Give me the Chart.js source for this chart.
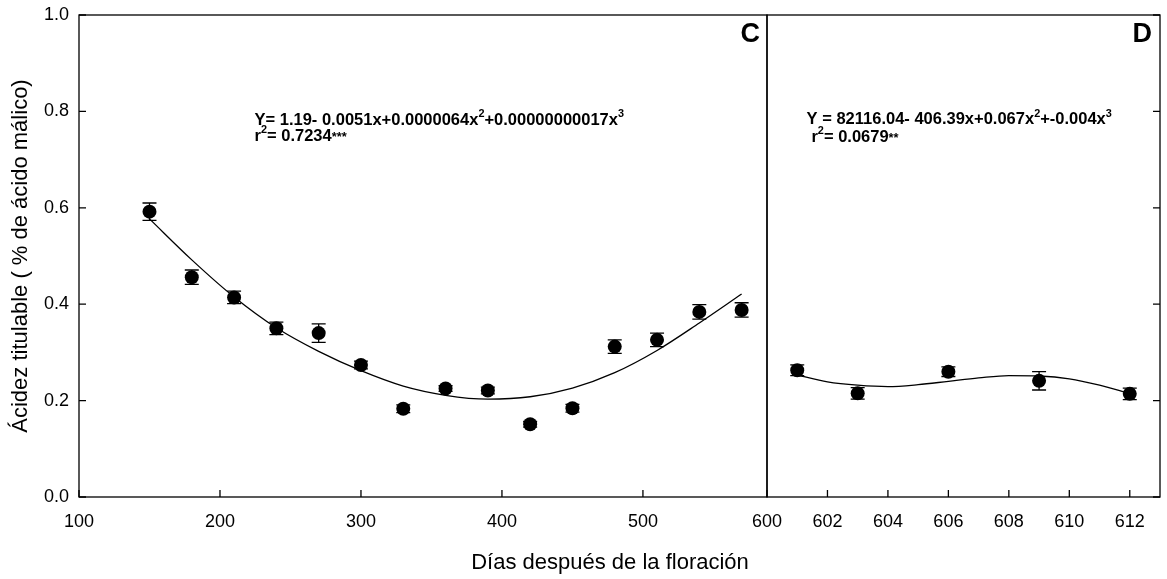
<!DOCTYPE html>
<html>
<head>
<meta charset="utf-8">
<script src="https://cdn.jsdelivr.net/npm/chart.js@4/dist/chart.umd.min.js"></script>
<style>
  body { margin: 0; background: #fff; width: 1167px; height: 579px; position: relative; overflow: hidden; }
  canvas { position: absolute; top: 0; }
  #chartC { left: 0; }
  #chartD { left: 737px; }
  #xTitle {
    position: absolute; left: 0; width: 1220px; top: 551px;
    text-align: center; font: 22px "Liberation Sans", Arial, sans-serif; line-height: 22px; color: #000;
  }
</style>
</head>
<body>
<canvas id="chartC" width="790" height="579"></canvas>
<canvas id="chartD" width="430" height="579"></canvas>
<div id="xTitle">Días después de la floración</div>
<script>
// panel C: days 150-570
let dayC = [150, 180, 210, 240, 270, 300, 330, 360, 390, 420, 450, 480, 510, 540, 570];
let acidC = [0.592, 0.456, 0.414, 0.350, 0.340, 0.274, 0.183, 0.225, 0.221, 0.151, 0.184, 0.312, 0.326, 0.384, 0.388];
let errC = [0.018, 0.015, 0.013, 0.013, 0.019, 0.008, 0.008, 0.006, 0.007, 0.006, 0.008, 0.014, 0.014, 0.015, 0.015];
// fitted cubic
let fitDayC = [150, 180, 210, 240, 270, 300, 330, 360, 390, 420, 450, 480, 510, 540, 570];
let fitC = [0.577, 0.492, 0.415, 0.351, 0.302, 0.262, 0.230, 0.211, 0.203, 0.208, 0.226, 0.258, 0.304, 0.361, 0.421];

// panel D: days 601-612
let dayD = [601, 603, 606, 609, 612];
let acidD = [0.263, 0.215, 0.260, 0.241, 0.214];
let errD = [0.011, 0.012, 0.010, 0.019, 0.012];
let fitDayD = [601, 602, 603, 604, 605, 606, 607, 608, 609, 610, 611, 612];
let fitD = [0.253, 0.239, 0.232, 0.229, 0.233, 0.240, 0.247, 0.252, 0.251, 0.245, 0.232, 0.215];

let xTicksC = [100, 200, 300, 400, 500];
let xTicksD = [600, 602, 604, 606, 608, 610, 612];
let yTicks = [0, 0.2, 0.4, 0.6, 0.8, 1.0];

Chart.defaults.font.family = '"Liberation Sans", Arial, sans-serif';
Chart.defaults.color = '#000';

const FONT = '"Liberation Sans", Arial, sans-serif';

function drawParts(ctx, parts, x, y, size) {
  parts.forEach(p => {
    let s = size;
    let yy = y;
    if (p.sup) { s = size * 0.66; yy = y - size * 0.45; }
    if (p.star) { s = size * 0.78; }
    ctx.font = 'bold ' + s + 'px ' + FONT;
    ctx.fillText(p.t, x, yy);
    x += ctx.measureText(p.t).width;
  });
}

// frame, inward ticks, error bars and equations
const panelPlugin = {
  id: 'panel',
  afterDatasetsDraw(chart, args, opts) {
    const {ctx, scales} = chart;
    ctx.save();
    ctx.strokeStyle = '#000';
    ctx.lineWidth = 1.3;
    chart.data.datasets.forEach((ds, i) => {
      if (!ds.errors) return;
      chart.getDatasetMeta(i).data.forEach((pt, j) => {
        const v = ds.data[j].y, e = ds.errors[j];
        const y0 = scales.y.getPixelForValue(v - e);
        const y1 = scales.y.getPixelForValue(v + e);
        ctx.beginPath();
        ctx.moveTo(pt.x, y0); ctx.lineTo(pt.x, y1);
        ctx.moveTo(pt.x - 7, y0); ctx.lineTo(pt.x + 7, y0);
        ctx.moveTo(pt.x - 7, y1); ctx.lineTo(pt.x + 7, y1);
        ctx.stroke();
      });
    });
    ctx.restore();
  },
  afterDraw(chart, args, opts) {
    const {ctx, chartArea: a, scales} = chart;
    ctx.save();
    ctx.strokeStyle = '#000';
    ctx.lineWidth = 1.3;
    ctx.strokeRect(a.left, a.top, a.right - a.left, a.bottom - a.top);
    ctx.beginPath();
    scales.x.ticks.forEach(t => {
      const px = scales.x.getPixelForValue(t.value);
      ctx.moveTo(px, a.bottom); ctx.lineTo(px, a.bottom - 7);
    });
    scales.y.ticks.forEach(t => {
      const py = scales.y.getPixelForValue(t.value);
      if (opts.side === 'left') { ctx.moveTo(a.left, py); ctx.lineTo(a.left + 7, py); }
      else { ctx.moveTo(a.right, py); ctx.lineTo(a.right - 7, py); }
    });
    ctx.stroke();

    ctx.fillStyle = '#000';
    ctx.textBaseline = 'alphabetic';
    ctx.textAlign = 'left';
    opts.notes.forEach(n => {
      drawParts(ctx, n.parts, scales.x.getPixelForValue(n.x), scales.y.getPixelForValue(n.y), 16.5);
    });
    ctx.textAlign = 'right';
    ctx.font = 'bold 27px ' + FONT;
    ctx.fillText(opts.label, a.right - opts.labelInset, a.top + 27);
    ctx.restore();
  }
};

function pts(xs, ys) {
  return xs.map((x, i) => ({x: x, y: ys[i]}));
}

function baseOptions(xMin, xMax, xTicks, pad, side, yExtra) {
  return {
    responsive: false,
    animation: false,
    layout: {padding: pad},
    plugins: {legend: {display: false}, tooltip: {enabled: false}},
    scales: {
      x: {
        type: 'linear', min: xMin, max: xMax,
        grid: {display: false, drawTicks: false},
        border: {display: false},
        ticks: {autoSkip: false, maxRotation: 0, font: {size: 18}, padding: 14},
        afterBuildTicks(s) { s.ticks = xTicks.map(v => ({value: v})); },
        afterFit(s) { s.height = 82; s.paddingLeft = 0; s.paddingRight = 0; }
      },
      y: Object.assign({
        min: 0, max: 1, position: side,
        grid: {display: false, drawTicks: false},
        border: {display: false},
        afterBuildTicks(s) { s.ticks = yTicks.map(v => ({value: v})); }
      }, yExtra)
    }
  };
}

let optsC = baseOptions(100, 588, xTicksC, {left: 0, right: 23, top: 15, bottom: 0}, 'left', {
  ticks: {font: {size: 18}, padding: 10, callback: v => v.toFixed(1)},
  title: {display: true, text: 'Ácidez titulable ( % de ácido málico)', font: {size: 22}, padding: {top: 8, bottom: 0}},
  afterFit(s) { s.width = 79; s.paddingTop = 0; s.paddingBottom = 0; }
});
optsC.plugins.panel = {
  side: 'left', label: 'C', labelInset: 7,
  notes: [
    {x: 224.5, y: 0.772, parts: [{t: 'Y= 1.19- 0.0051x+0.0000064x'}, {t: '2', sup: true}, {t: '+0.00000000017x'}, {t: '3', sup: true}]},
    {x: 224.5, y: 0.739, parts: [{t: 'r'}, {t: '2', sup: true}, {t: '= 0.7234'}, {t: '***', star: true}]}
  ]
};

new Chart(document.getElementById('chartC'), {
  type: 'scatter',
  data: {
    datasets: [
      {data: pts(fitDayC, fitC), showLine: true, borderColor: '#000', borderWidth: 1.3, pointRadius: 0, cubicInterpolationMode: 'monotone', fill: false},
      {data: pts(dayC, acidC), errors: errC, pointRadius: 7, backgroundColor: '#000', borderWidth: 0}
    ]
  },
  options: optsC,
  plugins: [panelPlugin]
});

let optsD = baseOptions(600, 613, xTicksD, {left: 30, right: 0, top: 15, bottom: 0}, 'right', {
  ticks: {display: false},
  afterFit(s) { s.width = 2; s.paddingTop = 0; s.paddingBottom = 0; }
});
optsD.plugins.panel = {
  side: 'right', label: 'D', labelInset: 8,
  notes: [
    {x: 601.31, y: 0.774, parts: [{t: 'Y = 82116.04- 406.39x+0.067x'}, {t: '2', sup: true}, {t: '+-0.004x'}, {t: '3', sup: true}]},
    {x: 601.47, y: 0.737, parts: [{t: 'r'}, {t: '2', sup: true}, {t: '= 0.0679'}, {t: '**', star: true}]}
  ]
};

new Chart(document.getElementById('chartD'), {
  type: 'scatter',
  data: {
    datasets: [
      {data: pts(fitDayD, fitD), showLine: true, borderColor: '#000', borderWidth: 1.3, pointRadius: 0, cubicInterpolationMode: 'monotone', fill: false},
      {data: pts(dayD, acidD), errors: errD, pointRadius: 7, backgroundColor: '#000', borderWidth: 0}
    ]
  },
  options: optsD,
  plugins: [panelPlugin]
});
</script>
</body>
</html>
